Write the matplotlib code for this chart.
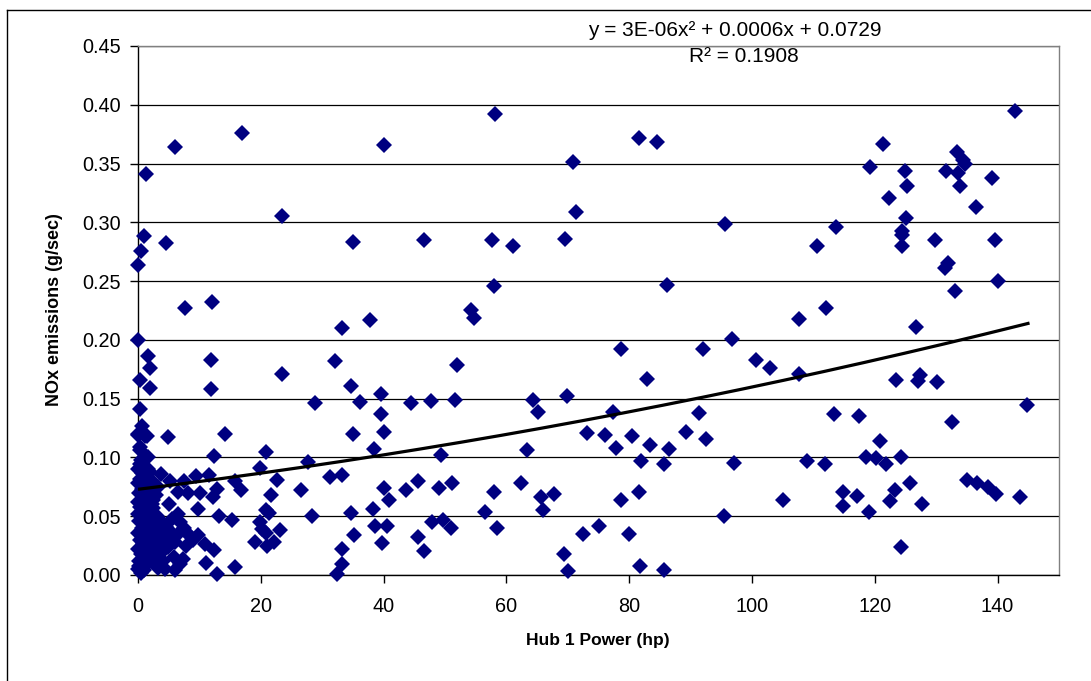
import numpy as np
import matplotlib
matplotlib.use('Agg')
import matplotlib.pyplot as plt
from matplotlib.lines import Line2D
from matplotlib.ticker import FormatStrFormatter

plt.rcParams['font.family'] = ['Liberation Sans', 'DejaVu Sans']

# ---------------- data ----------------
# dense cluster near the origin
hp_cluster = [0, 0.2, 0.5, 0, 0.8, 0.3, 1.1, 0, 0.6, 1.4, 0.2, 0.9, 0, 1.2, 0.4, 0, 0.8, 1.5, 0.2, 0.6,
              1.1, 0, 0.4, 1.3, 0.7, 0, 1.0, 0.3, 1.6, 2.0, 0.1, 1.0, 1.6, 0.5, 1.9, 2.3, 1.5, 2.6, 2.0, 1.7,
              2.8, 2.2, 1.8, 2.5, 3.1, 3.4, 3.0, 3.6, 2.7, 3.3, 4.0, 4.3, 4.6, 3.8, 4.9, 5.3, 5.6, 6.0, 6.4, 5.1,
              2.4, 1.9, 2.9, 2.3, 3.2, 1.6, 0.5, 2.2, 7.5, 8.0, 6.8, 7.8, 9.0, 5.8, 4.4, 6.5, 1.2, 0.4, 0, 0.9]
nox_cluster = [0.005, 0.012, 0.018, 0.022, 0.026, 0.030, 0.033, 0.036, 0.040, 0.043, 0.046, 0.049, 0.052, 0.055, 0.058, 0.062, 0.064, 0.067, 0.070, 0.073,
               0.076, 0.078, 0.082, 0.084, 0.087, 0.090, 0.092, 0.094, 0.090, 0.088, 0.008, 0.004, 0.010, 0.002, 0.016, 0.021, 0.027, 0.030, 0.035, 0.039,
               0.042, 0.047, 0.052, 0.057, 0.050, 0.038, 0.026, 0.018, 0.010, 0.006, 0.012, 0.030, 0.041, 0.046, 0.024, 0.037, 0.048, 0.028, 0.034, 0.060,
               0.064, 0.072, 0.068, 0.080, 0.075, 0.100, 0.098, 0.060, 0.040, 0.036, 0.045, 0.025, 0.030, 0.015, 0.005, 0.052, 0.118, 0.109, 0.119, 0.014]

# 0 - 37 hp
hp_low = [1.25, 6.1, 16.9, 23.5, 1.0, 0.43, 0, 4.5, 35, 7.7, 12.1,
          0, 33.2, 1.7, 2.0, 11.9, 32.1, 0.3, 2.0, 11.9, 23.5, 34.7, 28.9, 36.1, 0.3, 0.6, 0, 1.4, 4.9, 14.2,
          35, 0.3, 12.4, 20.9, 27.7, 19.85, 3.7, 5.2, 9.5, 11.6, 7.5, 6.5, 8.2, 10.1, 12.8, 12.2, 15.8, 16.8, 22.6, 21.6,
          26.6, 31.3, 33.2, 34.7, 9.7, 13.2, 15.3, 20.8, 21.4, 28.3, 20.2, 20.8, 23.1, 19.0, 21.0, 22.1, 10.9, 12.4, 35.2, 33.3,
          33.3, 32.4, 15.8, 12.9, 11.0, 6.0, 6.8, 7.3, 8.4, 9.8, 19.9]
nox_low = [0.341, 0.364, 0.376, 0.305, 0.288, 0.276, 0.264, 0.282, 0.283, 0.227, 0.232,
           0.200, 0.210, 0.186, 0.176, 0.183, 0.182, 0.166, 0.159, 0.158, 0.171, 0.161, 0.146, 0.147, 0.141, 0.127, 0.120, 0.118, 0.117, 0.120,
           0.120, 0.106, 0.101, 0.1045, 0.096, 0.0906, 0.0855, 0.080, 0.084, 0.085, 0.080, 0.071, 0.070, 0.070, 0.073, 0.066, 0.080, 0.072, 0.081, 0.068,
           0.072, 0.083, 0.085, 0.053, 0.056, 0.050, 0.047, 0.055, 0.053, 0.050, 0.039, 0.036, 0.038, 0.028, 0.025, 0.028, 0.026, 0.021, 0.034, 0.022,
           0.009, 0.001, 0.0065, 0.001, 0.010, 0.0045, 0.009, 0.0136, 0.033, 0.034, 0.045]

# 37 - 75 hp
hp_mid = [58.1, 40, 70.9, 71.4, 46.6, 57.6, 61, 69.5, 57.9, 54.3, 54.7, 37.8, 52, 39.6, 44.5, 47.7, 51.6, 64.4, 69.8, 65.1,
          39.5, 40, 38.4, 49.3, 63.4, 73.1, 40, 40.8, 43.7, 45.6, 49.1, 51.2, 38.2, 38.6, 40.5, 39.7, 45.6, 46.6, 47.9, 49.7,
          50.9, 56.5, 57.9, 58.4, 62.3, 65.6, 66, 67.7, 69.3, 70.1, 72.5, 75]
nox_mid = [0.392, 0.366, 0.351, 0.309, 0.285, 0.285, 0.280, 0.286, 0.246, 0.225, 0.219, 0.217, 0.179, 0.154, 0.146, 0.148, 0.149, 0.149, 0.152, 0.139,
           0.137, 0.122, 0.107, 0.102, 0.106, 0.121, 0.074, 0.064, 0.072, 0.080, 0.074, 0.078, 0.056, 0.042, 0.042, 0.027, 0.032, 0.020, 0.045, 0.047,
           0.040, 0.054, 0.071, 0.040, 0.078, 0.066, 0.055, 0.069, 0.018, 0.003, 0.035, 0.042]

# 75 - 112 hp
hp_upper = [81.6, 84.5, 95.6, 110.6, 86.1, 112.1, 78.6, 92, 96.8, 107.7, 100.7, 102.9, 107.6, 82.9, 77.3, 91.4, 76, 77.9, 80.5, 83.4,
            86.5, 89.3, 92.5, 82, 85.6, 97, 109, 111.9, 78.6, 81.6, 105, 80, 95.5, 81.7, 85.7]
nox_upper = [0.372, 0.368, 0.299, 0.280, 0.247, 0.227, 0.192, 0.192, 0.201, 0.218, 0.183, 0.176, 0.171, 0.167, 0.139, 0.138, 0.119, 0.108, 0.118, 0.111,
             0.107, 0.122, 0.116, 0.097, 0.094, 0.095, 0.097, 0.094, 0.064, 0.071, 0.064, 0.035, 0.050, 0.008, 0.004]

# 112 - 145 hp
hp_high = [142.9, 121.4, 133.4, 134.4, 134.7, 119.2, 124.9, 131.6, 133.6, 139.1, 125.3, 133.9, 122.3, 136.5, 125.1, 113.6, 124.5, 124.4, 124.5, 129.8,
           139.5, 132, 131.4, 140, 133, 126.7, 123.5, 127.4, 127.1, 130.1, 144.8, 113.3, 117.5, 132.5, 120.8, 118.6, 120.2, 121.9, 124.3, 125.8,
           114.8, 114.9, 117.1, 119, 123.3, 122.5, 127.7, 135, 136.6, 138.5, 139.7, 143.7, 124.3]
nox_high = [0.395, 0.367, 0.360, 0.353, 0.350, 0.347, 0.344, 0.344, 0.342, 0.338, 0.331, 0.331, 0.321, 0.313, 0.304, 0.296, 0.293, 0.289, 0.280, 0.285,
            0.285, 0.265, 0.261, 0.250, 0.242, 0.211, 0.166, 0.170, 0.165, 0.164, 0.145, 0.137, 0.135, 0.130, 0.114, 0.100, 0.0995, 0.094, 0.100, 0.078,
            0.071, 0.059, 0.067, 0.054, 0.072, 0.063, 0.060, 0.081, 0.078, 0.075, 0.069, 0.066, 0.024]

# polynomial trendline as drawn (coefficients a, b, c) and its x extent
trend_coef = [2.3e-6, 6.4e-4, 0.0729]
trend_x_range = [0, 145.2]

x_ticks = [0, 20, 40, 60, 80, 100, 120, 140]
y_ticks = [0.00, 0.05, 0.10, 0.15, 0.20, 0.25, 0.30, 0.35, 0.40, 0.45]

eq_text = 'y = 3E-06x\u00b2 + 0.0006x + 0.0729'
r2_text = 'R\u00b2 = 0.1908'
x_label = 'Hub 1 Power (hp)'
y_label = 'NOx emissions (g/sec)'

# ---------------- figure ----------------
W, H = 1091, 681
fig = plt.figure(figsize=(W / 100, H / 100), dpi=100)
fig.patch.set_facecolor('white')

L, R, T, B = 138, 1059, 46, 575
ax = fig.add_axes([L / W, 1 - B / H, (R - L) / W, (B - T) / H])
ax.set_xlim(0, 150)
ax.set_ylim(0, 0.45)
ax.set_xticks(x_ticks)
ax.set_yticks(y_ticks)
ax.yaxis.set_major_formatter(FormatStrFormatter('%.2f'))
ax.grid(axis='y', color='black', lw=0.9)
ax.set_axisbelow(True)

hp = np.concatenate([hp_cluster, hp_low, hp_mid, hp_upper, hp_high])
nox = np.concatenate([nox_cluster, nox_low, nox_mid, nox_upper, nox_high])
ax.plot(hp, nox, linestyle='none', marker='D', markersize=8.6, color='#000080',
        markeredgewidth=0, clip_on=False, zorder=3)

xt = np.linspace(trend_x_range[0], trend_x_range[1], 200)
yt = np.polyval(trend_coef, xt)
ax.plot(xt, yt, color='black', lw=2.3, zorder=4, solid_capstyle='butt')

for s in ['left', 'bottom']:
    ax.spines[s].set_color('black')
    ax.spines[s].set_linewidth(1.0)
for s in ['right', 'top']:
    ax.spines[s].set_color('#808080')
    ax.spines[s].set_linewidth(1.0)

ax.tick_params(axis='both', direction='out', length=5.5, width=1.0, colors='black', labelsize=14.3)
ax.tick_params(axis='y', pad=7)
ax.tick_params(axis='x', pad=10)

fig.text(55 / W, 1 - 310 / H, y_label, rotation=90, ha='center', va='center',
         fontsize=13, fontweight='bold')
fig.text(598 / W, 1 - 640 / H, x_label, ha='center', va='center',
         fontsize=12.5, fontweight='bold')

fig.text(735 / W, 1 - 30 / H, eq_text, ha='center', va='center', fontsize=15)
fig.text(744 / W, 1 - 57 / H, r2_text, ha='center', va='center', fontsize=15)

# outer chart-area border (runs off the right and bottom edges)
fig.add_artist(Line2D([7 / W, 1.01], [1 - 10 / H, 1 - 10 / H], transform=fig.transFigure,
                      color='black', lw=1.0))
fig.add_artist(Line2D([7 / W, 7 / W], [-0.01, 1 - 10 / H], transform=fig.transFigure,
                      color='black', lw=1.0))

fig.savefig('out.png', dpi=100, facecolor='white')
